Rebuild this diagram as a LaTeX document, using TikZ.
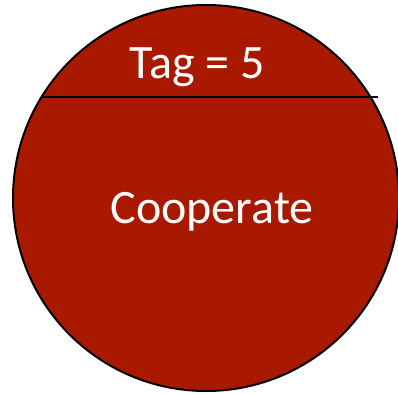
\documentclass[tikz,border=0pt]{standalone}
\usepackage{fontspec}
\setmainfont{Carlito}
\definecolor{tagred}{HTML}{A91900}
\tikzset{
  lbl/.style={text=white, font=\fontsize{48}{52}\selectfont, anchor=base, inner sep=0pt},
  disc/.style={circle, draw=black, line width=2pt, fill=tagred, minimum size=386pt, inner sep=0pt}
}
\begin{document}
\begin{tikzpicture}[x=1pt,y=-1pt]
\useasboundingbox (0,0) rectangle (398,393);
\node[disc] (c) at (206,198) {};
\coordinate (l) at (43,97);
\coordinate (r) at (378,97);
\draw[line width=2pt] (l) -- (r);
\node[lbl] (tag) at (197,78) {Tag = 5};
\node[lbl] (coop) at (212,223) {Cooperate};
\end{tikzpicture}
\end{document}
